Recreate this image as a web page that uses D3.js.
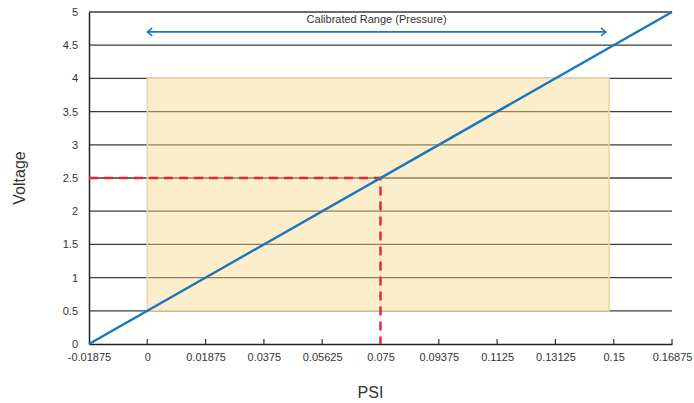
<!DOCTYPE html>
<html>
<head>
<meta charset="utf-8">
<script src="https://cdn.jsdelivr.net/npm/d3@7"></script>
<style>
  body { margin: 0; background: #fff; }
  text { font-family: "Liberation Sans", Arial, sans-serif; fill: #333; }
</style>
</head>
<body>
<svg id="chart" width="694" height="403"></svg>
<script>
  // tick values / labels
  var xTicks = [-0.01875, 0, 0.01875, 0.0375, 0.05625, 0.075, 0.09375, 0.1125, 0.13125, 0.15, 0.16875];
  var xLabels = ["-0.01875", "0", "0.01875", "0.0375", "0.05625", "0.075", "0.09375", "0.1125", "0.13125", "0.15", "0.16875"];
  var yTicks = [0, 0.5, 1, 1.5, 2, 2.5, 3, 3.5, 4, 4.5, 5];
  var yLabels = ["0", "0.5", "1", "1.5", "2", "2.5", "3", "3.5", "4", "4.5", "5"];

  // transfer function (psi -> voltage)
  var linePsi = [-0.01875, 0.16875];
  var lineVolt = [0, 5];

  // calibrated region
  var bandPsi = [0, 0.1485];
  var bandVolt = [0.5, 4];
  var rangePsi = [0, 0.1475];
  var rangeVolt = 4.7;
  var rangeLabel = "Calibrated Range (Pressure)";

  // reading example
  var markPsi = 0.075;
  var markVolt = 2.5;

  var margin = { top: 12, right: 22, bottom: 59, left: 89 };
  var svg = d3.select("#chart");
  var width = 694 - margin.left - margin.right;
  var height = 403 - margin.top - margin.bottom;

  var x = d3.scaleLinear().domain([xTicks[0], xTicks[xTicks.length - 1]]).range([0, width]);
  var y = d3.scaleLinear().domain([0, 5]).range([height, 0]);

  var g = svg.append("g").attr("transform", "translate(" + margin.left + "," + margin.top + ")");

  // horizontal grid
  g.selectAll(".grid").data(yTicks.slice(1)).enter().append("line")
    .attr("x1", 0).attr("x2", width)
    .attr("y1", function (d) { return y(d); })
    .attr("y2", function (d) { return y(d); })
    .attr("stroke", "#3a3a3a").attr("stroke-width", 1.3);

  // calibrated band (semi transparent on top of grid)
  g.append("rect")
    .attr("x", x(bandPsi[0])).attr("width", x(bandPsi[1]) - x(bandPsi[0]))
    .attr("y", y(bandVolt[1])).attr("height", y(bandVolt[0]) - y(bandVolt[1]))
    .attr("fill", "#f9d98a").attr("fill-opacity", 0.45)
    .attr("stroke", "#e8d6a8").attr("stroke-width", 1.5);

  // axes
  var xAxis = d3.axisBottom(x).tickValues(xTicks)
    .tickFormat(function (d, i) { return xLabels[i]; })
    .tickSize(0).tickPadding(9);
  var gx = g.append("g").attr("transform", "translate(0," + height + ")").call(xAxis);
  gx.select(".domain").attr("stroke", "#222").attr("stroke-width", 1.5);
  gx.selectAll("text").attr("font-size", 11).attr("fill", "#333");

  // small inside ticks
  g.selectAll(".xt").data(xTicks.slice(1)).enter().append("line")
    .attr("x1", function (d) { return x(d); }).attr("x2", function (d) { return x(d); })
    .attr("y1", height).attr("y2", height - 5)
    .attr("stroke", "#333").attr("stroke-width", 1.2);

  var yAxis = d3.axisLeft(y).tickValues(yTicks)
    .tickFormat(function (d, i) { return yLabels[i]; })
    .tickSize(0).tickPadding(11);
  var gy = g.append("g").call(yAxis);
  gy.select(".domain").attr("stroke", "#222").attr("stroke-width", 1.5);
  gy.selectAll("text").attr("font-size", 11).attr("fill", "#333");

  // red dashed guide
  g.append("path")
    .attr("d", d3.line()([[x(xTicks[0]), y(markVolt)], [x(markPsi), y(markVolt)], [x(markPsi), y(0)]]))
    .attr("fill", "none").attr("stroke", "#f0202c").attr("stroke-width", 2.4)
    .attr("stroke-dasharray", "9,6");

  // transfer line
  g.append("line")
    .attr("x1", x(linePsi[0])).attr("y1", y(lineVolt[0]))
    .attr("x2", x(linePsi[1])).attr("y2", y(lineVolt[1]))
    .attr("stroke", "#1a76bd").attr("stroke-width", 2.4);

  // calibrated range arrow
  var ay = y(rangeVolt), ax1 = x(rangePsi[0]), ax2 = x(rangePsi[1]);
  g.append("line").attr("x1", ax1).attr("x2", ax2).attr("y1", ay).attr("y2", ay)
    .attr("stroke", "#1a76bd").attr("stroke-width", 1.6);
  g.append("path")
    .attr("d", "M" + (ax1 + 5) + "," + (ay - 4) + "L" + ax1 + "," + ay + "L" + (ax1 + 5) + "," + (ay + 4) +
      "M" + (ax2 - 5) + "," + (ay - 4) + "L" + ax2 + "," + ay + "L" + (ax2 - 5) + "," + (ay + 4))
    .attr("fill", "none").attr("stroke", "#1a76bd").attr("stroke-width", 1.4);
  g.append("text").attr("x", (ax1 + ax2) / 2).attr("y", ay - 9)
    .attr("text-anchor", "middle").attr("font-size", 11).text(rangeLabel);

  // axis titles
  svg.append("text").attr("x", margin.left + x(markPsi) - 10).attr("y", 398)
    .attr("text-anchor", "middle").attr("font-size", 16).text("PSI");
  svg.append("text")
    .attr("transform", "translate(25," + (margin.top + y(2.5)) + ") rotate(-90)")
    .attr("text-anchor", "middle").attr("font-size", 16).text("Voltage");
</script>
</body>
</html>
